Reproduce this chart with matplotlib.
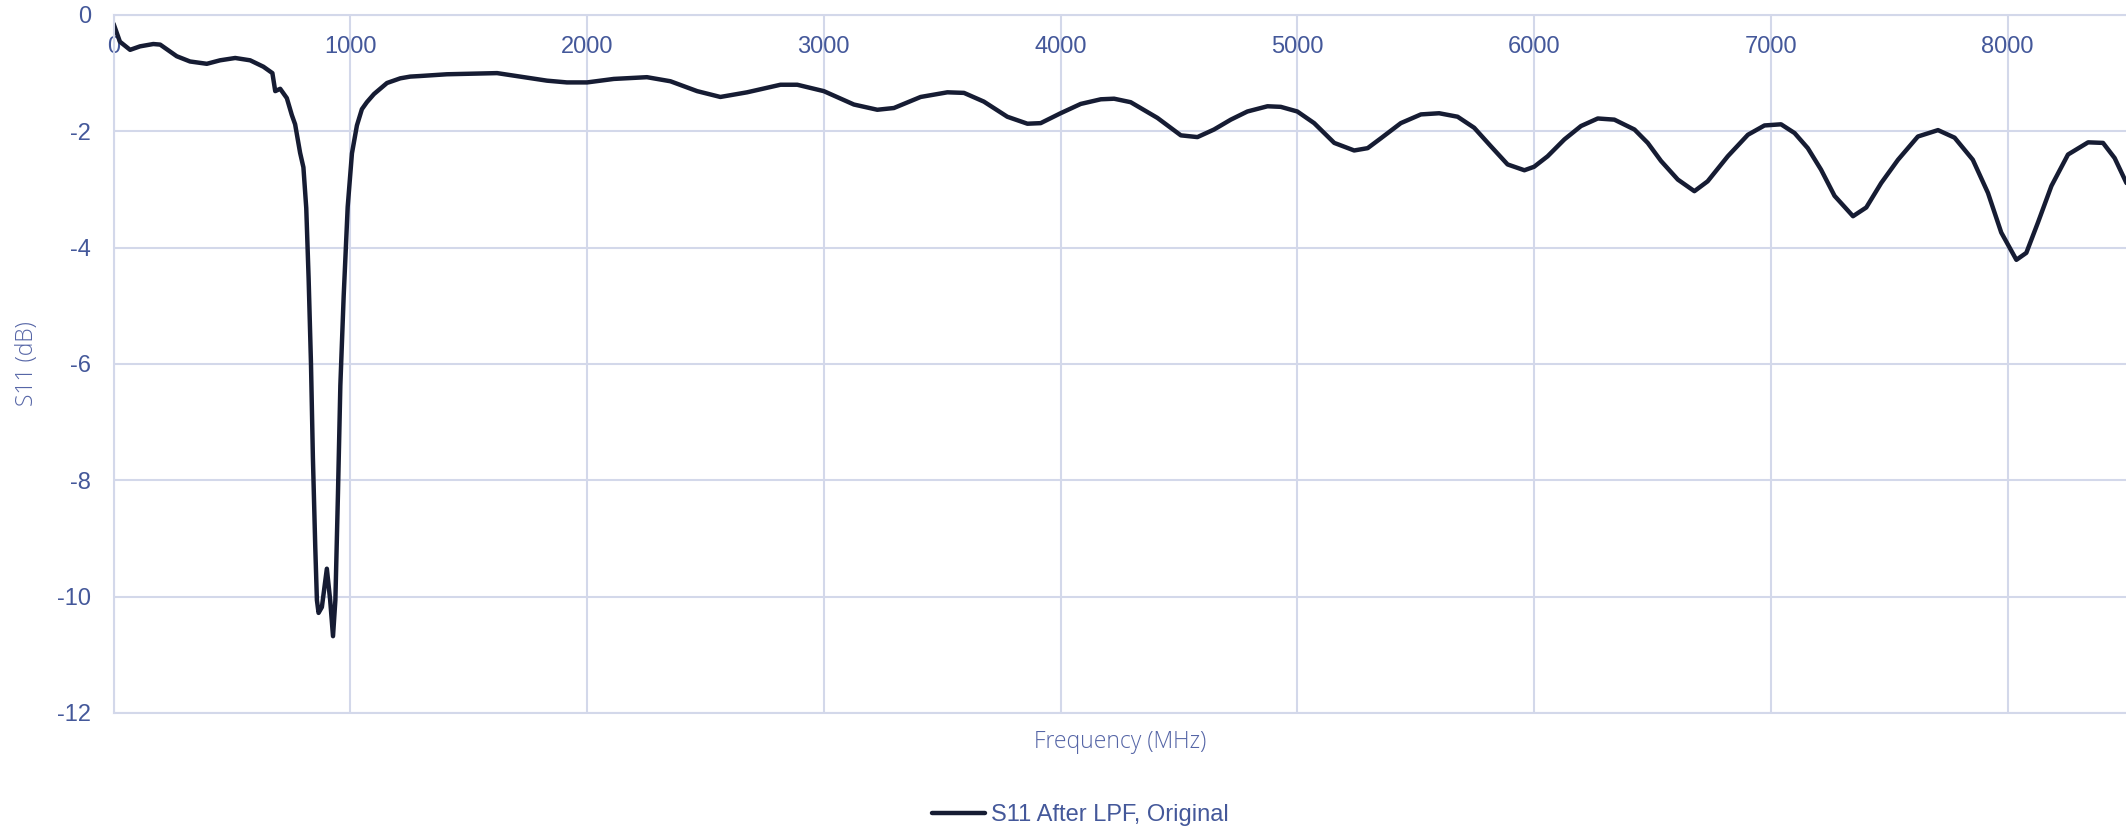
#!/usr/bin/env python3

from matplotlib.pyplot import figure, savefig, close, rcParams
from matplotlib.ticker import MultipleLocator

# S11 sweep (MHz, dB)
freq = [0, 27, 70, 112, 168, 197, 267, 323, 394, 450, 514, 577, 633, 671,
        683, 704, 732, 753, 767, 788, 802, 814, 824, 834, 842, 852, 859, 866,
        880, 901, 915, 927, 937, 948, 958, 972, 989, 1007, 1028, 1049, 1070,
        1100, 1126, 1155, 1211, 1253, 1295, 1408, 1620, 1718, 1831, 1915,
        2000, 2113, 2253, 2352, 2465, 2563, 2676, 2817, 2888, 3000, 3127,
        3226, 3296, 3409, 3522, 3592, 3676, 3775, 3860, 3916, 4000, 4085,
        4170, 4226, 4296, 4409, 4508, 4578, 4648, 4719, 4789, 4874, 4930,
        5000, 5071, 5156, 5240, 5297, 5353, 5437, 5522, 5599, 5677, 5747,
        5818, 5888, 5959, 6000, 6057, 6128, 6198, 6269, 6339, 6424, 6480,
        6536, 6607, 6677, 6733, 6818, 6903, 6973, 7043, 7100, 7156, 7212,
        7269, 7347, 7403, 7466, 7537, 7621, 7706, 7776, 7853, 7917, 7973,
        8037, 8079, 8128, 8185, 8255, 8340, 8403, 8452, 8502]

s11 = [-0.15, -0.46, -0.60, -0.54, -0.50, -0.51, -0.71, -0.80, -0.84, -0.78,
       -0.74, -0.78, -0.89, -1.00, -1.31, -1.27, -1.43, -1.72, -1.88, -2.37,
       -2.62, -3.32, -4.53, -6.0, -7.6, -9.14, -10.06, -10.28, -10.18, -9.52,
       -10.06, -10.68, -10.06, -8.22, -6.37, -4.84, -3.30, -2.38, -1.90,
       -1.62, -1.50, -1.36, -1.27, -1.17, -1.09, -1.06, -1.05, -1.02, -1.00,
       -1.06, -1.13, -1.16, -1.16, -1.10, -1.07, -1.14, -1.31, -1.41, -1.33,
       -1.20, -1.20, -1.31, -1.54, -1.63, -1.60, -1.41, -1.33, -1.34, -1.49,
       -1.75, -1.87, -1.86, -1.69, -1.53, -1.45, -1.44, -1.50, -1.77, -2.07,
       -2.10, -1.97, -1.80, -1.66, -1.57, -1.58, -1.66, -1.86, -2.20, -2.33,
       -2.29, -2.12, -1.86, -1.71, -1.69, -1.75, -1.94, -2.26, -2.57, -2.67,
       -2.61, -2.43, -2.14, -1.91, -1.78, -1.80, -1.97, -2.20, -2.51, -2.83,
       -3.03, -2.86, -2.43, -2.06, -1.90, -1.88, -2.03, -2.29, -2.66, -3.11,
       -3.46, -3.31, -2.89, -2.49, -2.09, -1.98, -2.11, -2.49, -3.06, -3.74,
       -4.21, -4.09, -3.57, -2.94, -2.40, -2.19, -2.20, -2.46, -2.89]

series_name = "S11 After LPF, Original"
x_title = "Frequency (MHz)"
y_title = "S11 (dB)"

LINE = "#161c33"
GRID = "#d3d8ea"
TICK = "#44589a"
LABEL = "#5565a6"

rcParams["axes.unicode_minus"] = False

fig = figure(figsize=(21.26, 8.30), dpi=100)
ax = fig.add_axes([0.0534, 0.141, 1 - 0.0534, 0.841])

ax.plot(freq, s11, color=LINE, linewidth=3.2, label=series_name,
        solid_joinstyle="round", solid_capstyle="round")

ax.set_xlim(0, 8500)
ax.set_ylim(-12, 0)
ax.xaxis.set_major_locator(MultipleLocator(1000))
ax.yaxis.set_major_locator(MultipleLocator(2))
ax.grid(True, color=GRID, linewidth=1.5)
ax.set_axisbelow(True)

# x axis crosses at 0 dB, so the labels sit just under the top edge
ax.xaxis.set_ticks_position("top")
ax.tick_params(axis="x", length=0, pad=-31, labelsize=17, labelcolor=TICK,
               labeltop=True, labelbottom=False)
ax.tick_params(axis="y", length=0, pad=16, labelsize=17, labelcolor=TICK)
for lbl in ax.get_xticklabels() + ax.get_yticklabels():
    lbl.set_fontfamily("Liberation Sans")

for side in ["top", "bottom", "left"]:
    ax.spines[side].set_color(GRID)
    ax.spines[side].set_linewidth(1.5)
ax.spines["right"].set_visible(False)

ax.xaxis.set_label_position("bottom")
ax.set_xlabel(x_title, fontsize=16.5, color=LABEL, family="Open Sans",
              fontweight="light", labelpad=12)
ax.set_ylabel(y_title, fontsize=16.5, color=LABEL, family="Open Sans",
              fontweight="light", labelpad=13)

fig.legend(loc="center", bbox_to_anchor=(1080 / 2126, 1 - 815 / 830),
           frameon=False, prop={"family": "Liberation Sans", "size": 17},
           labelcolor=TICK, handlelength=2.25, handletextpad=0.25)

savefig("out.png", dpi=100)
close(fig)
